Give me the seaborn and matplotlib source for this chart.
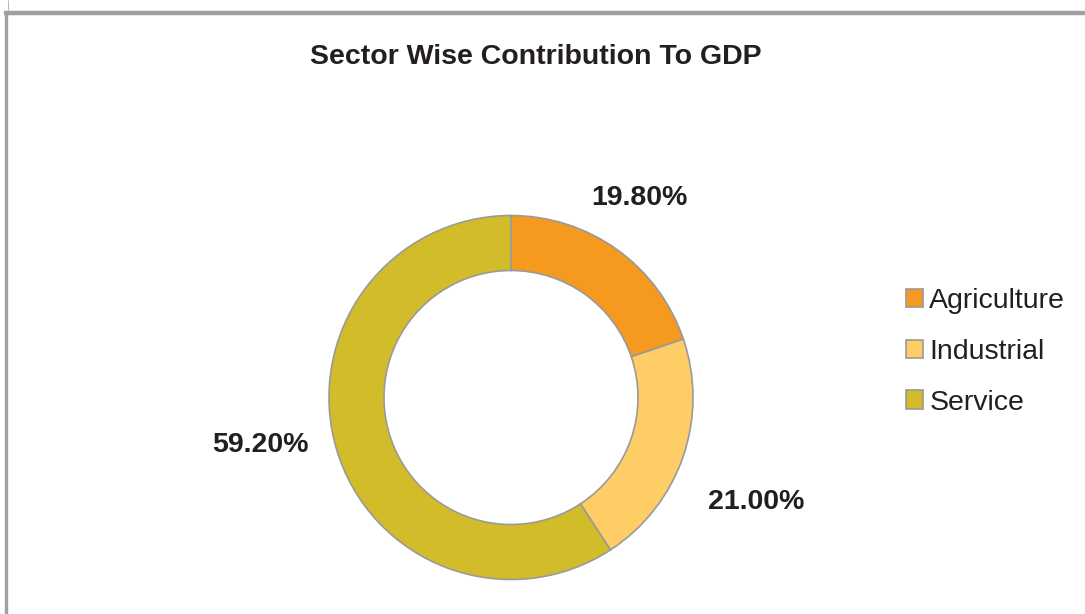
import numpy as np
import matplotlib
matplotlib.use("Agg")
import matplotlib.pyplot as plt
import seaborn as sns

# ---- data ----
sectors = ["Agriculture", "Industrial", "Service"]
shares = [19.80, 21.00, 59.20]
value_labels = ["19.80%", "21.00%", "59.20%"]
title = "Sector Wise Contribution To GDP"

sns.set_theme(style="white")
plt.rcParams["font.family"] = ["Liberation Sans", "DejaVu Sans"]

colors = ["#F5991F", "#FECD65", "#D3BC2A"]
edge = "#9A9A9A"

W, H = 1085, 614
fig = plt.figure(figsize=(W / 100, H / 100), dpi=100)
ax = fig.add_axes([0, 0, 1, 1])

cx, cy, R, ring = 511, H - 397.5, 182, 55
wedges, _ = ax.pie(
    shares, colors=colors, startangle=90, counterclock=False,
    center=(cx, cy), radius=R, frame=True,
    wedgeprops=dict(width=ring, edgecolor=edge, linewidth=1.2),
)
ax.set_xlim(0, W)
ax.set_ylim(0, H)
ax.set_aspect("equal")
ax.axis("off")

# labels outside each wedge
dist = [1.30, 1.465, 1.40]
dang = [2.9, -3.9, -5.8]
for w, lab, d, da in zip(wedges, value_labels, dist, dang):
    mid = np.deg2rad((w.theta1 + w.theta2) / 2 + da)
    x = cx + R * d * np.cos(mid)
    y = cy + R * d * np.sin(mid)
    ax.text(x, y, lab, ha="center", va="center", fontsize=20.5,
            fontweight="bold", color="#231F20")

ax.text(536, H - 57, title, ha="center", va="center", fontsize=20.5,
        fontweight="bold", color="#231F20")

leg = ax.legend(wedges, sectors, loc="upper left",
                bbox_to_anchor=(906 / W, 1 - 288 / H),
                frameon=False, fontsize=20.5, handlelength=0.6,
                handleheight=0.6, handletextpad=0.22, labelspacing=0.87,
                borderaxespad=0, borderpad=0)
for t in leg.get_texts():
    t.set_color("#231F20")

# frame lines
ax.plot([4, W], [H - 12.5, H - 12.5], color="#A0A0A0", lw=3.2, solid_capstyle="butt")
ax.plot([5.5, 5.5], [0, H - 11], color="#A0A0A0", lw=2.4, solid_capstyle="butt")
ax.plot([7.5, 7.5], [H - 11, H], color="#BBBBBB", lw=0.8, solid_capstyle="butt")

fig.savefig("out.png", dpi=100, facecolor="white")
